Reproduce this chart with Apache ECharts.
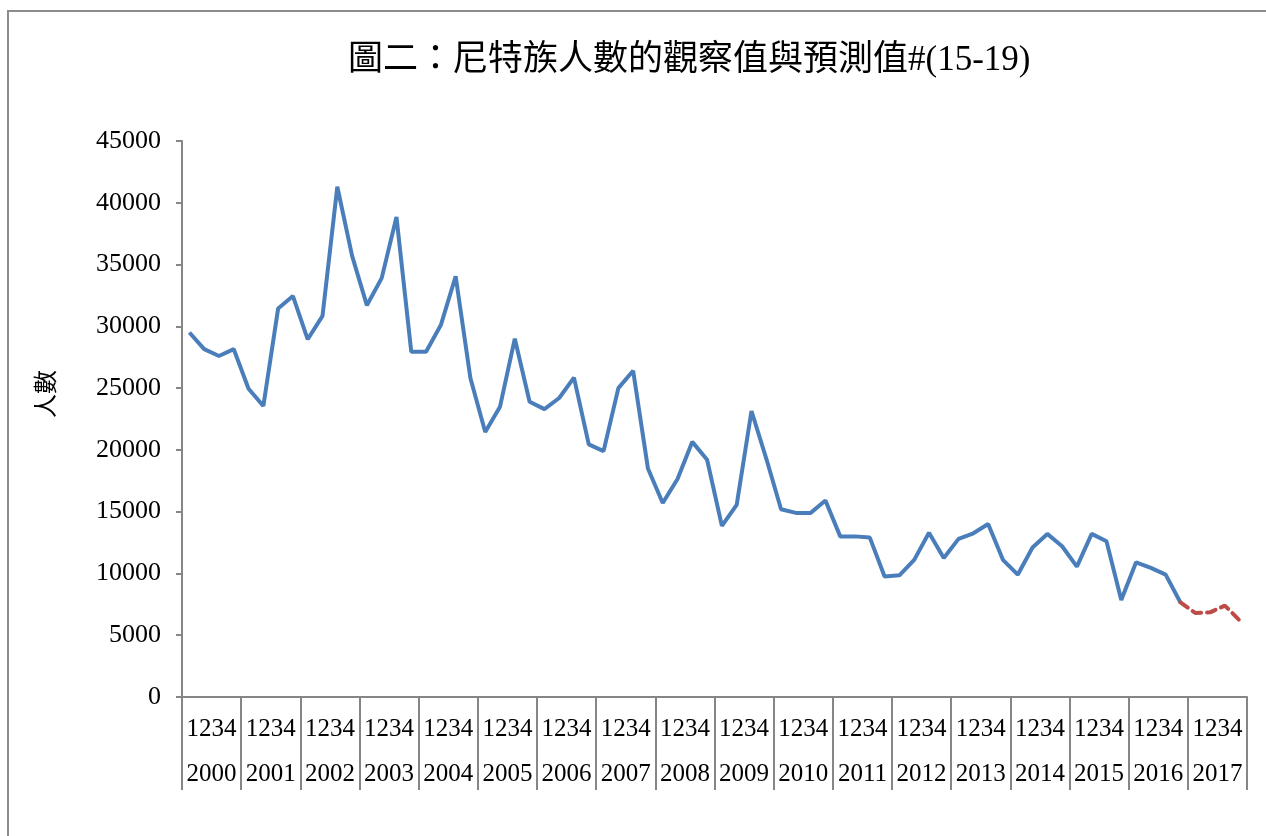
<!DOCTYPE html>
<html>
<head>
<meta charset="utf-8">
<script src="https://cdn.jsdelivr.net/npm/echarts@6/dist/echarts.min.js"></script>
<style>
html,body{margin:0;padding:0;background:#fff;}
#frame{position:absolute;left:7px;top:10px;width:1280px;height:860px;border-left:2px solid #8c8c8c;border-top:2px solid #8c8c8c;box-sizing:border-box;}
#chart{position:absolute;left:0;top:0;width:1266px;height:836px;}
</style>
</head>
<body>
<div id="frame"></div>
<div id="chart"></div>
<script>
var titleText = '圖二：尼特族人數的觀察值與預測值#(15-19)';
var yAxisName = '人數';
var years = ['2000','2001','2002','2003','2004','2005','2006','2007','2008','2009','2010','2011','2012','2013','2014','2015','2016','2017'];
var quarters = ['1','2','3','4'];
var observed = [29500, 28150, 27600, 28150, 24950, 23550, 31450, 32450, 28950, 30850,
  41300, 35700, 31700, 33900, 38850, 27950, 27950, 30100, 34050, 25800,
  21450, 23500, 29000, 23900, 23300, 24200, 25850, 20450, 19900, 25000,
  26400, 18500, 15700, 17650, 20650, 19200, 13850, 15550, 23150, 19300,
  15200, 14900, 14900, 15900, 13000, 13000, 12900, 9750, 9850, 11100,
  13300, 11250, 12800, 13250, 14000, 11100, 9900, 12100, 13200, 12200,
  10550, 13200, 12600, 7850, 10900, 10450, 9900, 7650];
var predicted = [6800, 6850, 7400, 6200];

var categories = [];
years.forEach(function (y) { quarters.forEach(function (q) { categories.push(y + 'Q' + q); }); });

var obsData = observed.slice();
var predData = [];
for (var i = 0; i < observed.length - 1; i++) predData.push(null);
predData.push(observed[observed.length - 1]);
predicted.forEach(function (v) { predData.push(v); });

var serif = "'Liberation Serif','Times New Roman',serif";
var cjk = "'Liberation Serif','Noto Sans CJK TC',serif";
var axisColor = '#868686';

var chart = echarts.init(document.getElementById('chart'));
chart.setOption({
  animation: false,
  backgroundColor: 'transparent',
  title: {
    text: titleText,
    left: 343,
    top: 38,
    textStyle: { fontFamily: cjk, fontSize: 35, fontWeight: 'normal', color: '#000' }
  },
  graphic: [{
    type: 'text',
    left: 33,
    top: 370,
    rotation: Math.PI / 2,
    originX: 0, originY: 0,
    style: { text: yAxisName, font: "24px 'Noto Sans CJK TC', sans-serif", fill: '#000' }
  }],
  grid: { left: 182, right: 19, top: 141, bottom: 139, containLabel: false },
  xAxis: [
    {
      type: 'category',
      data: categories,
      boundaryGap: true,
      axisLine: { show: true, lineStyle: { color: axisColor, width: 2 } },
      axisTick: { show: false },
      axisLabel: { show: false },
      splitLine: { show: false }
    },
    {
      type: 'category',
      data: years,
      position: 'bottom',
      boundaryGap: true,
      axisLine: { show: false },
      axisTick: { show: true, interval: 0, length: 93, lineStyle: { color: axisColor, width: 2 } },
      axisLabel: {
        interval: 0,
        margin: 10,
        formatter: function (v) { return '{q|' + quarters.join('') + '}\n{y|' + v + '}'; },
        rich: {
          q: { fontFamily: serif, fontSize: 25, color: '#000', lineHeight: 45 },
          y: { fontFamily: serif, fontSize: 25, color: '#000', lineHeight: 45 }
        }
      },
      splitLine: { show: false }
    }
  ],
  yAxis: {
    type: 'value',
    min: 0,
    max: 45000,
    interval: 5000,
    axisLine: { show: true, lineStyle: { color: axisColor, width: 2 } },
    axisTick: { show: true, length: 6, lineStyle: { color: axisColor, width: 2 } },
    axisLabel: { fontFamily: serif, fontSize: 26, color: '#000', margin: 21, formatter: function (v) { return String(v); } },
    splitLine: { show: false }
  },
  series: [
    {
      name: '觀察值',
      type: 'line',
      xAxisIndex: 0,
      data: obsData,
      symbol: 'none',
      lineStyle: { color: '#4A7EBB', width: 4 },
      z: 3
    },
    {
      name: '預測值',
      type: 'line',
      xAxisIndex: 0,
      data: predData,
      symbol: 'none',
      connectNulls: false,
      lineStyle: { color: '#BE4B48', width: 4, type: [9, 6], cap: 'round' },
      z: 4
    }
  ]
});
</script>
</body>
</html>
